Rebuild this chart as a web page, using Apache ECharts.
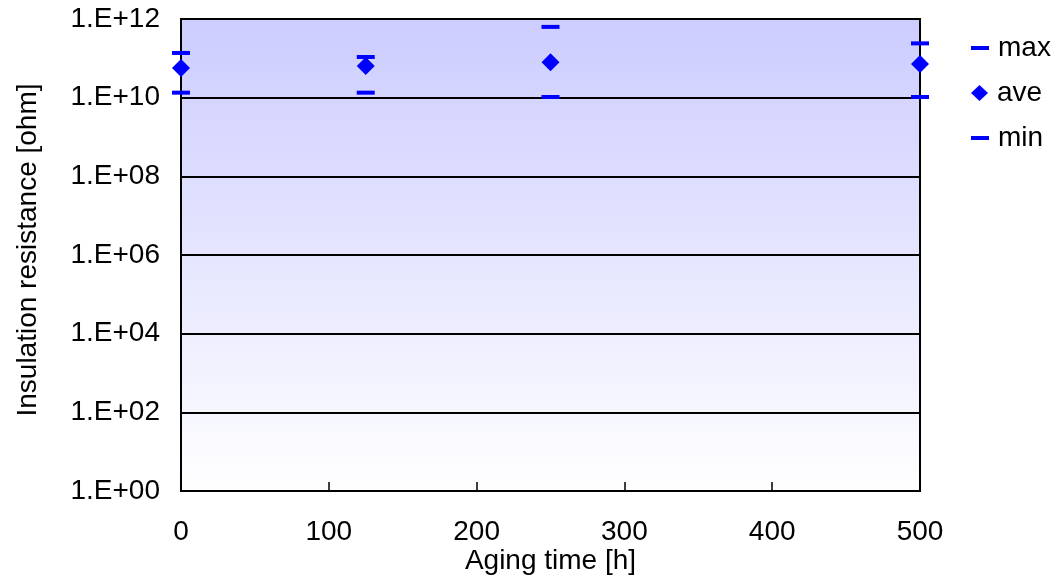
<!DOCTYPE html>
<html>
<head>
<meta charset="utf-8">
<script src="https://cdn.jsdelivr.net/npm/echarts@6/dist/echarts.min.js"></script>
<style>
	html, body { margin: 0; padding: 0; background: #fff; }
	#chart { width: 1058px; height: 577px; }
</style>
</head>
<body>
<div id="chart"></div>
<script>
	// 数据
	var agingTime = [0, 125, 250, 500];
	var maxValues = [1.37e11, 1.08e11, 6.3e11, 2.4e11];
	var aveValues = [5.7e10, 6.4e10, 7.9e10, 7.2e10];
	var minValues = [1.34e10, 1.34e10, 1.04e10, 1.04e10];

	var fontFamily = '"Liberation Sans", Arial, sans-serif';
	var blue = '#0000ff';

	function toPairs(values) {
		var pairs = [];
		for (var i = 0; i < agingTime.length; i++) {
			pairs.push([agingTime[i], values[i]]);
		}
		return pairs;
	}

	function legendFor(name, icon, w, h, top) {
		return {
			data: [name],
			icon: icon,
			itemWidth: w,
			itemHeight: h,
			left: 971,
			top: top,
			padding: 0,
			selectedMode: false,
			textStyle: {
				fontFamily: fontFamily,
				fontSize: 28,
				color: '#000',
				padding: [0, 0, 0, 4]
			}
		};
	}

	var myChart = echarts.init(document.getElementById('chart'));

	myChart.setOption({
		animation: false,
		grid: {
			left: 181,
			right: 138,
			top: 19,
			bottom: 86,
			containLabel: false,
			outerBoundsMode: 'none',
			show: true,
			borderColor: '#000',
			borderWidth: 2,
			backgroundColor: new echarts.graphic.LinearGradient(0, 0, 0, 1, [
				{ offset: 0, color: '#ccccff' },
				{ offset: 1, color: '#ffffff' }
			])
		},
		legend: [
			legendFor('max', 'rect', 18, 4, 34),
			legendFor('ave', 'diamond', 17, 16, 79),
			legendFor('min', 'rect', 18, 4, 124)
		],
		xAxis: {
			type: 'value',
			min: 0,
			max: 500,
			interval: 100,
			name: 'Aging time [h]',
			nameLocation: 'middle',
			nameGap: 56,
			nameMoveOverlap: false,
			nameTextStyle: { fontFamily: fontFamily, fontSize: 28, color: '#000' },
			axisLine: { lineStyle: { color: '#000', width: 2 } },
			axisTick: { inside: true, length: 9, lineStyle: { color: '#000', width: 1.5 } },
			axisLabel: { margin: 27, fontFamily: fontFamily, fontSize: 28, color: '#000' },
			splitLine: { show: false }
		},
		yAxis: {
			type: 'log',
			logBase: 10,
			min: 1,
			max: 1e12,
			interval: 2,
			name: 'Insulation resistance [ohm]',
			nameLocation: 'middle',
			nameRotate: 90,
			nameGap: 139,
			nameMoveOverlap: false,
			nameTextStyle: {
				fontFamily: fontFamily,
				fontSize: 28,
				color: '#000',
				padding: [0, 0, 0, 10]
			},
			axisLine: { show: true, lineStyle: { color: '#000', width: 2 } },
			axisTick: { show: false },
			axisLabel: {
				margin: 21,
				fontFamily: fontFamily,
				fontSize: 28,
				color: '#000',
				formatter: function (v) {
					var e = Math.round(Math.log10(v));
					return '1.E+' + (e < 10 ? '0' : '') + e;
				}
			},
			splitLine: { show: true, lineStyle: { color: '#000', width: 2 } }
		},
		series: [{
			name: 'max',
			type: 'scatter',
			symbol: 'rect',
			symbolSize: [18, 4],
			clip: false,
			itemStyle: { color: blue, opacity: 1 },
			data: toPairs(maxValues)
		}, {
			name: 'ave',
			type: 'scatter',
			symbol: 'diamond',
			symbolSize: 18,
			clip: false,
			itemStyle: { color: blue, opacity: 1 },
			data: toPairs(aveValues)
		}, {
			name: 'min',
			type: 'scatter',
			symbol: 'rect',
			symbolSize: [18, 4],
			clip: false,
			itemStyle: { color: blue, opacity: 1 },
			data: toPairs(minValues)
		}]
	});
</script>
</body>
</html>
